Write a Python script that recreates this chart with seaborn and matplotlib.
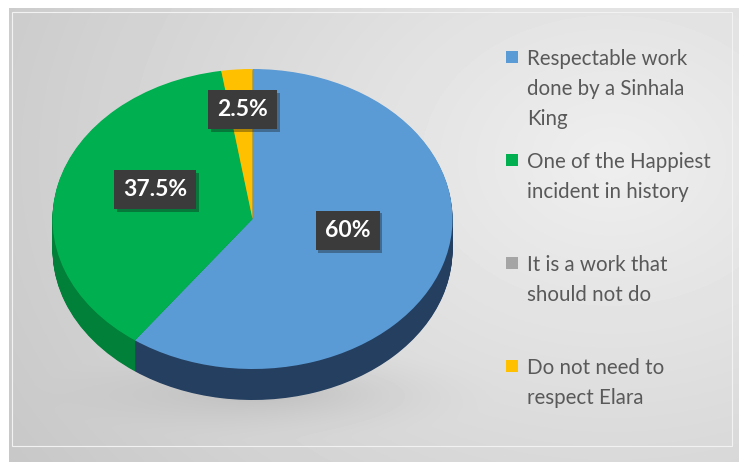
import numpy as np
import matplotlib
matplotlib.use("Agg")
import matplotlib.pyplot as plt
import matplotlib.patheffects as pe
from matplotlib.patches import Rectangle
import seaborn as sns

# survey answers and their shares (%)
categories = [
    "Respectable work\ndone by a Sinhala\nKing",
    "One of the Happiest\nincident in history",
    "It is a work that\nshould not do",
    "Do not need to\nrespect Elara",
]
shares = [60, 37.5, 0, 2.5]
value_labels = ["60%", "37.5%", "", "2.5%"]

top_colors = ["#5B9BD5", "#00B050", "#A5A5A5", "#FFC000"]
side_colors = ["#243F60", "#008038", "#6E6E6E", "#B38600"]

sns.set_theme(style="white")
plt.rcParams["font.family"] = ["Lato", "DejaVu Sans"]

W, H = 739, 466
fig = plt.figure(figsize=(W / 100, H / 100), dpi=100)
fig.patch.set_facecolor("white")

# background panel, soft grey gradient with a blurred shadow under the pie
bg = fig.add_axes([0, 0, 1, 1])
bg.set_xlim(0, W)
bg.set_ylim(H, 0)
bg.axis("off")
px0, px1, py0, py1 = 9, W, 8, 462
yy, xx = np.mgrid[py0:py1, px0:px1]
dist = np.hypot(xx - 610, (yy - 160) * 1.3)
shade = np.clip(0.935 - 0.15 * dist / 700, 0.77, 0.94)
e = np.hypot((xx - 268) / 235, (yy - 392) / 48)
shade -= 0.09 * np.clip(1 - e, 0, 1) ** 1.5
bg.imshow(shade, cmap="gray", vmin=0, vmax=1, extent=(px0, px1, py1, py0),
          aspect="auto", zorder=0, interpolation="bilinear")
bg.add_patch(Rectangle((12, 12), 720, 434, fill=False, ec="#f2f2f2", lw=0.8, zorder=1))

# pie axes, ellipse geometry in pixels
L, R, T, B = 30, 480, 40, 440
cx, cy, rx, ry, depth = 252.5, 219, 200, 150, 31
ax = fig.add_axes([L / W, 1 - B / H, (R - L) / W, (B - T) / H])

# side of the 3D pie: stack darker pies downwards
d = depth / ry
n_layers = 40
for k in range(n_layers):
    off = -d + d * k / n_layers
    ax.pie(shares, colors=side_colors, startangle=90, counterclock=False,
           center=(0, off), wedgeprops=dict(linewidth=0))

wedges, _ = ax.pie(shares, colors=top_colors, startangle=90, counterclock=False,
                   wedgeprops=dict(linewidth=0))

ax.set_aspect("auto")
ax.set_xlim((L - cx) / rx, (R - cx) / rx)
ax.set_ylim((cy - B) / ry, (cy - T) / ry)
ax.axis("off")

# data labels in dark boxes
label_dist = [0.5, 0.5, 0.0, 0.65]
lift = 0.08  # perspective pushes labels up a bit
for w, lab, r in zip(wedges, value_labels, label_dist):
    if not lab:
        continue
    ang = np.deg2rad((w.theta1 + w.theta2) / 2)
    t = ax.text(r * np.cos(ang), r * np.sin(ang) + lift, lab, ha="center", va="center",
                color="white", fontsize=16.5, fontweight="bold",
                bbox=dict(boxstyle="square,pad=0.4", fc="#3b3b3b", ec="none"))
    t.get_bbox_patch().set_path_effects(
        [pe.SimplePatchShadow(offset=(2, -2), alpha=0.35), pe.Normal()])

# legend on the right
leg_x, leg_top, leg_step, line_h = 506, 50, 103, 30
for i, (lab, col) in enumerate(zip(categories, top_colors)):
    top = leg_top + i * leg_step
    bg.add_patch(Rectangle((leg_x, top + 1), 12, 12, fc=col, ec="none", zorder=3))
    for j, line in enumerate(lab.split("\n")):
        bg.text(leg_x + 21, top + 15 + j * line_h, line, fontsize=14.8,
                color="#595959", va="baseline", ha="left", zorder=3)

fig.savefig("out.png", dpi=100)
